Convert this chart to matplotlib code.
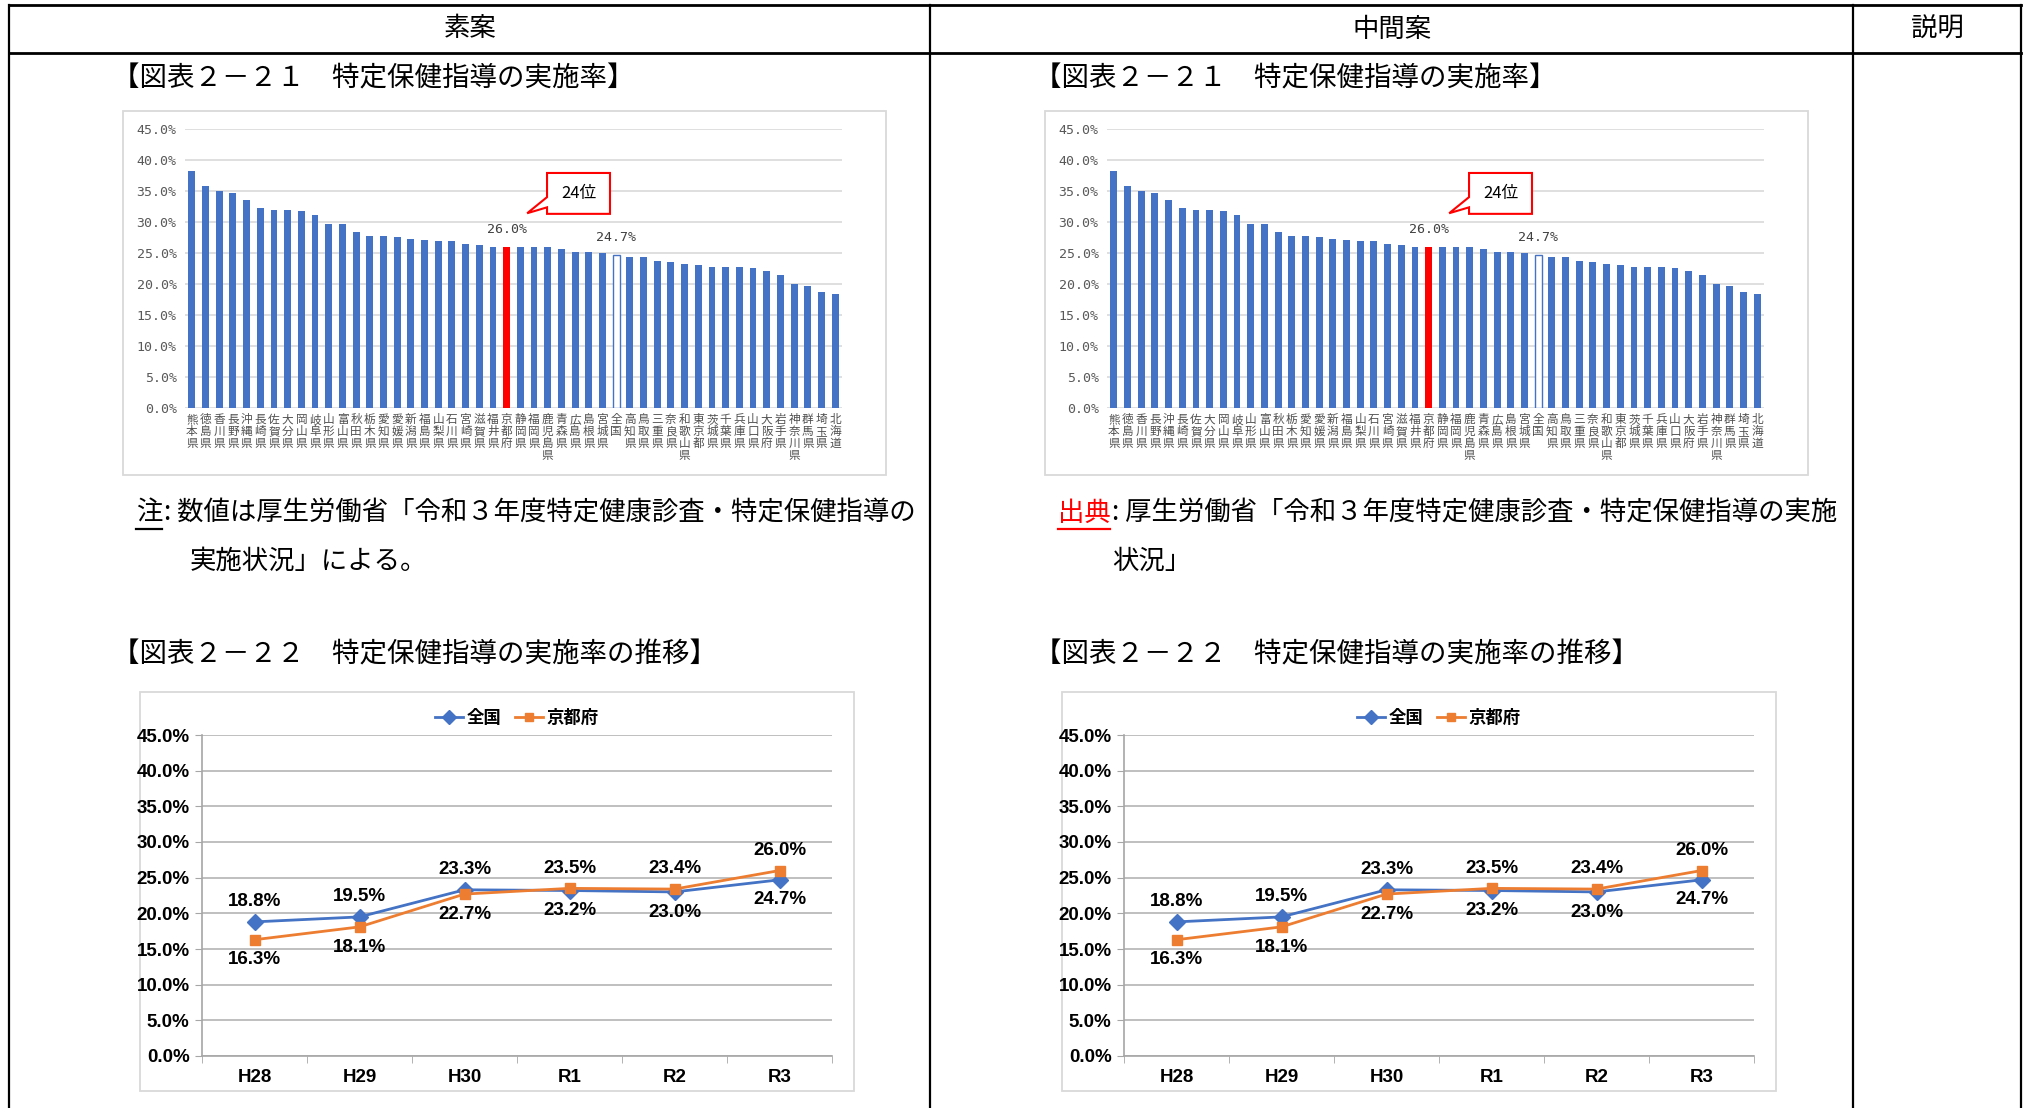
import matplotlib
matplotlib.use("Agg")
import matplotlib.pyplot as plt
from matplotlib.patches import Rectangle, Polygon
from matplotlib.ticker import FixedLocator
import numpy as np

plt.rcParams['font.family'] = ['Noto Sans CJK JP', 'DejaVu Sans']

W, H = 2029, 1108

# --- data ---
prefs = ["熊本県", "徳島県", "香川県", "長野県", "沖縄県", "長崎県", "佐賀県", "大分県",
         "岡山県", "岐阜県", "山形県", "富山県", "秋田県", "栃木県", "愛知県", "愛媛県",
         "新潟県", "福島県", "山梨県", "石川県", "宮崎県", "滋賀県", "福井県", "京都府",
         "静岡県", "福岡県", "鹿児島県", "青森県", "広島県", "島根県", "宮城県", "全国",
         "高知県", "鳥取県", "三重県", "奈良県", "和歌山県", "東京都", "茨城県", "千葉県",
         "兵庫県", "山口県", "大阪府", "岩手県", "神奈川県", "群馬県", "埼玉県", "北海道"]
rates = [38.2, 35.8, 35.0, 34.7, 33.5, 32.2, 31.9, 31.9, 31.7, 31.1,
         29.7, 29.6, 28.3, 27.7, 27.7, 27.5, 27.2, 27.1, 26.9, 26.9,
         26.5, 26.3, 26.0, 26.0, 26.0, 26.0, 25.9, 25.7, 25.1, 25.1,
         25.0, 24.7, 24.3, 24.3, 23.7, 23.5, 23.2, 23.0, 22.7, 22.7,
         22.7, 22.6, 22.0, 21.5, 20.0, 19.7, 18.7, 18.4]
rank_label = "24位"

years = ["H28", "H29", "H30", "R1", "R2", "R3"]
zenkoku = [18.8, 19.5, 23.3, 23.2, 23.0, 24.7]
kyoto = [16.3, 18.1, 22.7, 23.5, 23.4, 26.0]

headers = ["素案", "中間案", "説明"]
title1 = "【図表２－２１　特定保健指導の実施率】"
title2 = "【図表２－２２　特定保健指導の実施率の推移】"
note_left = ("注", ": 数値は厚生労働省「令和３年度特定健康診査・特定保健指導の", "実施状況」による。")
note_right = ("出典", ": 厚生労働省「令和３年度特定健康診査・特定保健指導の実施", "状況」")

BLUE = "#4472C4"
ORANGE = "#ED7D31"
MONO = ["DejaVu Sans Mono"]
NARROW = ["Liberation Sans Narrow", "Liberation Sans", "DejaVu Sans"]

fig = plt.figure(figsize=(W / 100, H / 100), dpi=100)
bg = fig.add_axes([0, 0, 1, 1])
bg.set_xlim(0, W)
bg.set_ylim(H, 0)
bg.axis('off')

# table lines
bg.plot([9, 2021], [5, 5], color='black', lw=2)
bg.plot([9, 2021], [53, 53], color='black', lw=2)
for xv in [9, 930, 1853, 2021]:
    bg.plot([xv, xv], [5, H], color='black', lw=1.6)

for txt, xc in zip(headers, [470, 1392, 1937]):
    bg.text(xc, 29, txt, ha='center', va='center', fontsize=19)


def bar_chart(dx):
    bg.add_patch(Rectangle((123 + dx, 111), 763, 364, fill=False, ec='#d9d9d9', lw=1.3))
    ax = fig.add_axes([(185 + dx) / W, 1 - 407.7 / H, 657 / W, 278.7 / H])
    x = np.arange(len(prefs))
    k = prefs.index("京都府")
    z = prefs.index("全国")
    colors = [BLUE] * len(prefs)
    colors[k] = "#FF0000"
    bars = ax.bar(x, rates, width=0.5, color=colors, zorder=2)
    bars[z].set_facecolor('white')
    bars[z].set_edgecolor(BLUE)
    bars[z].set_linewidth(1.0)
    ax.set_xlim(-0.5, len(prefs) - 0.5)
    ax.set_ylim(0, 45)
    ax.set_yticks(np.arange(0, 46, 5))
    ax.set_yticklabels([f"{v:.1f}%" for v in np.arange(0, 46, 5)], family=MONO,
                       fontsize=9.5, color='#595959')
    ax.set_xticks(x)
    ax.set_xticklabels(['\n'.join(p) for p in prefs], fontsize=8.4, color='#505050',
                       linespacing=0.88, va='top')
    ax.tick_params(length=0, pad=6)
    ax.tick_params(axis='x', pad=4)
    ax.grid(axis='y', color='#d9d9d9', lw=1.2, zorder=0)
    for s in ax.spines.values():
        s.set_visible(False)
    for i in (k, z):
        ax.annotate(f"{rates[i]:.1f}%", (x[i], rates[i]), xytext=(0, 12.5),
                    textcoords='offset points', ha='center', va='center',
                    family=MONO, fontsize=9.5, color='#404040')
    # callout
    shape = [(k + 2.95, 37.9), (k + 7.55, 37.9), (k + 7.55, 31.3), (k + 2.95, 31.3),
             (k + 2.95, 32.35), (k + 1.5, 31.4), (k + 2.95, 34.0)]
    ax.add_patch(Polygon(shape, closed=True, fc='white', ec='#FF0000', lw=1.5, zorder=4,
                         clip_on=False))
    ax.text(k + 5.25, 34.6, rank_label, ha='center', va='center', fontsize=12,
            color='black', zorder=5)


def line_chart(dx):
    bg.add_patch(Rectangle((140 + dx, 692), 714, 399, fill=False, ec='#d9d9d9', lw=1.3))
    ax = fig.add_axes([(202 + dx) / W, 1 - 1056 / H, 630 / W, 321 / H])
    x = np.arange(len(years))
    ax.plot(x, zenkoku, color=BLUE, lw=2, marker='D', ms=8.5, label="全国", zorder=3)
    ax.plot(x, kyoto, color=ORANGE, lw=2, marker='s', ms=7.5, label="京都府", zorder=3)
    for i in range(len(years)):
        for val, other in ((zenkoku[i], kyoto[i]), (kyoto[i], zenkoku[i])):
            off = 14.5 if val >= other else -14.5
            ax.annotate(f"{val:.1f}%", (x[i], val), xytext=(0, off), textcoords='offset points',
                        ha='center', va='center', family=NARROW, fontweight='bold',
                        fontsize=13.5, color='black')
    ax.set_xlim(-0.5, len(years) - 0.5)
    ax.set_ylim(0, 45)
    ax.set_yticks(np.arange(0, 46, 5))
    ax.set_yticklabels([f"{v:.1f}%" for v in np.arange(0, 46, 5)], family=NARROW,
                       fontweight='bold', fontsize=13.5)
    ax.set_xticks(x)
    ax.set_xticklabels(years, family=NARROW, fontweight='bold', fontsize=13.5)
    ax.xaxis.set_minor_locator(FixedLocator(np.arange(-0.5, len(years), 1.0)))
    ax.tick_params(axis='x', which='major', length=0, pad=9)
    ax.tick_params(axis='x', which='minor', length=5, color='#a6a6a6', direction='out')
    ax.tick_params(axis='y', length=5, color='#a6a6a6', pad=4)
    ax.grid(axis='y', color='#bfbfbf', lw=1.4, zorder=0)
    for s in ('top', 'right'):
        ax.spines[s].set_visible(False)
    for s in ('left', 'bottom'):
        ax.spines[s].set_color('#a6a6a6')
        ax.spines[s].set_linewidth(1.2)
    leg = ax.legend(loc='center', bbox_to_anchor=(0.5, 1.053), ncol=2, frameon=False,
                    fontsize=12.5, handlelength=1.6, handletextpad=0.2, columnspacing=0.8,
                    numpoints=1, markerscale=0.8)
    for t in leg.get_texts():
        t.set_fontweight('bold')


def notes(dx, parts, color, head_w):
    head, line1, line2 = parts
    bg.text(136 + dx, 513, head, ha='left', va='center', fontsize=19, color=color)
    bg.plot([136 + dx, 136 + dx + head_w], [529, 529], color=color, lw=1.6)
    bg.text(136 + dx + head_w + 2, 513, line1, ha='left', va='center', fontsize=19)
    bg.text(190 + dx, 561, line2, ha='left', va='center', fontsize=19)


for dx in (0, 922):
    bg.text(112 + dx, 79, title1, ha='left', va='center', fontsize=19.8)
    bg.text(112 + dx, 655, title2, ha='left', va='center', fontsize=19.8)
    bar_chart(dx)
    line_chart(dx)

notes(0, note_left, 'black', 26)
notes(922, note_right, '#FF0000', 52)

fig.savefig("out.png", dpi=100)
